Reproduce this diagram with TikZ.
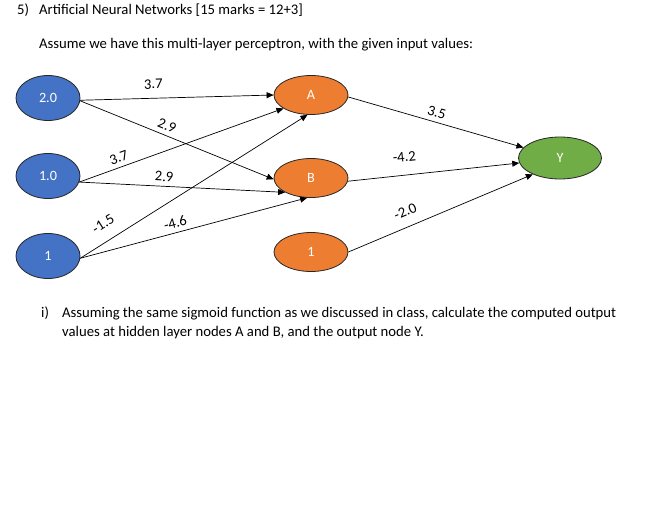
\documentclass[tikz,border=0pt]{standalone}
\usepackage{fontspec}
\setmainfont{Carlito}
\usetikzlibrary{arrows.meta,shapes.geometric}
\definecolor{inblue}{HTML}{4472C4}
\definecolor{hidorange}{HTML}{ED7D31}
\definecolor{outgreen}{HTML}{70AD47}
\begin{document}
\begin{tikzpicture}[x=1pt,y=-1pt,
neuron/.style={ellipse,draw=black!85,line width=.8pt,inner sep=0pt,text=white,font=\fontsize{14.2}{16}\selectfont},
inp/.style={neuron,fill=inblue,minimum width=64pt,minimum height=45pt},
hid/.style={neuron,fill=hidorange,minimum width=74pt,minimum height=39pt},
outp/.style={neuron,fill=outgreen,minimum width=83pt,minimum height=42pt},
txt/.style={anchor=base west,inner sep=0pt,font=\fontsize{14.7}{17}\selectfont},
a/.style={-{Triangle[length=7pt,width=6pt]},line width=.7pt},
wt/.style={font=\fontsize{14.7}{16}\selectfont,inner sep=1.5pt,sloped,above=3pt}]
\useasboundingbox (0,0) rectangle (665,525);
\node[txt] (num) at (17,14) {5)};
\node[txt] (title) at (39,14) {Artificial Neural Networks [15 marks = 12+3]};
\node[txt] (intro) at (39,48) {Assume we have this multi-layer perceptron, with the given input values:};
% input layer
\node[inp] (in20) at (48,98) {2.0};
\node[inp] (in10) at (48,176) {1.0};
\node[inp] (in1) at (48,256) {1};
% hidden layer
\node[hid] (A) at (311,95) {A};
\node[hid] (B) at (311,178) {B};
\node[hid] (h1) at (311,252) {1};
% output
\node[outp] (Y) at (560,158) {Y};
\draw[a] (in20.-4) -- node[wt,pos=.38,above=4.5pt]{3.7} (A.west);
\draw[a] (in20.-5) -- node[wt,pos=.43]{2.9} (B.182);
\draw[a] (in10.-11) -- node[wt,pos=.21]{3.7} (A.206);
\draw[a] (in10.-11) -- node[wt,pos=.41]{2.9} (B.209);
\draw[a] (in1.-4) -- node[wt,pos=.14,above=7pt]{-1.5} (A.260);
\draw[a] (in1.-4) -- node[wt,pos=.43]{-4.6} (B.259);
\draw[a] (A.-3) -- node[wt,pos=.49]{3.5} (Y.164);
\draw[a] (B.-5) -- node[wt,pos=.34,above=8.5pt]{-4.2} (Y.187);
\draw[a] (h1.east) -- node[wt,pos=.34,above=5.5pt]{-2.0} (Y.211);
\node[txt] (part) at (41,317) {i)};
\node[txt] (q1) at (62,317) {Assuming the same sigmoid function as we discussed in class, calculate the computed output};
\node[txt] (q2) at (62,336) {values at hidden layer nodes A and B, and the output node Y.};
\end{tikzpicture}
\end{document}
